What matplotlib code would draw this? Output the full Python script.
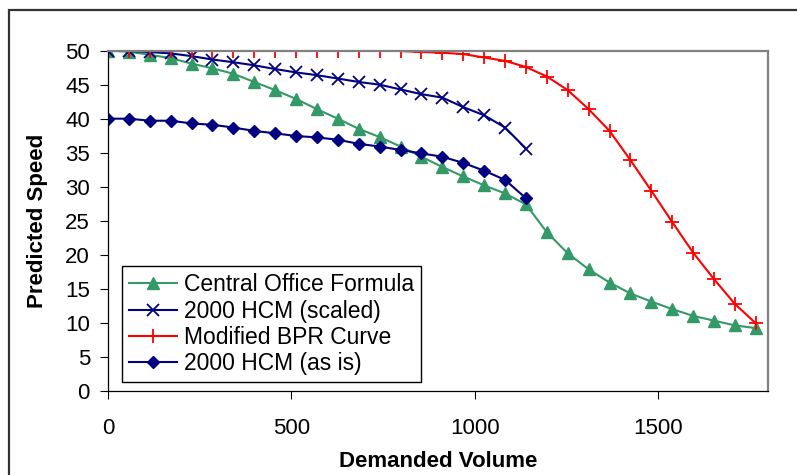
import matplotlib
matplotlib.use("Agg")
import matplotlib.pyplot as plt
from matplotlib.patches import Rectangle

plt.rcParams['font.family'] = ['Liberation Sans', 'DejaVu Sans']

# demanded volume steps (57 veh apart)
volume = [i * 57 for i in range(32)]

central_office = [50.0, 49.85, 49.4, 48.9, 48.1, 47.4, 46.6, 45.4, 44.2, 42.9,
                  41.4, 40.0, 38.5, 37.3, 35.9, 34.4, 32.9, 31.5, 30.2, 29.0,
                  27.4, 23.3, 20.2, 17.85, 15.9, 14.3, 13.1, 12.0, 11.0, 10.3,
                  9.6, 9.2]
hcm_scaled = [50.0, 49.95, 49.8, 49.6, 49.2, 48.7, 48.3, 47.85, 47.3, 46.8,
              46.4, 45.9, 45.4, 45.0, 44.3, 43.6, 43.1, 41.7, 40.5, 38.7, 35.6]
bpr = [50.0, 50.0, 50.0, 50.0, 50.0, 50.0, 50.0, 50.0, 50.0, 50.0,
       50.0, 50.0, 50.0, 50.0, 49.95, 49.8, 49.7, 49.5, 49.0, 48.5,
       47.6, 46.2, 44.2, 41.4, 38.2, 33.9, 29.4, 24.8, 20.3, 16.4,
       12.75, 9.9]
hcm_as_is = [40.0, 40.0, 39.7, 39.7, 39.3, 39.1, 38.7, 38.2, 37.85, 37.45,
             37.25, 36.9, 36.3, 35.9, 35.4, 34.9, 34.4, 33.5, 32.35, 31.0, 28.3]

x_ticks = [0, 500, 1000, 1500]
y_ticks = list(range(0, 51, 5))

fig = plt.figure(figsize=(7.97, 4.75), dpi=100)
ax = fig.add_axes([0.1355, 0.1775, 0.828, 0.7158])

ax.plot(volume, central_office, color='#339966', lw=1.5, marker='^', ms=8,
        label='Central Office Formula')
ax.plot(volume[:len(hcm_scaled)], hcm_scaled, color='#000080', lw=1.5,
        marker='x', ms=8, mew=1.3, label='2000 HCM (scaled)')
ax.plot(volume, bpr, color='#ff0000', lw=1.5, marker='+', ms=10, mew=1.3,
        label='Modified BPR Curve')
ax.plot(volume[:len(hcm_as_is)], hcm_as_is, color='#000080', lw=1.5,
        marker='D', ms=6, label='2000 HCM (as is)')

ax.set_xlim(0, 1800)
ax.set_ylim(0, 50)
ax.set_xticks(x_ticks)
ax.set_yticks(y_ticks)
ax.tick_params(axis='both', direction='out', length=6, width=0.8,
               labelsize=16, color='black')
ax.tick_params(axis='y', pad=7)
ax.tick_params(axis='x', pad=14)

for side in ['top', 'right']:
    ax.spines[side].set_color('#808080')
    ax.spines[side].set_linewidth(1.6)
for side in ['left', 'bottom']:
    ax.spines[side].set_color('black')
    ax.spines[side].set_linewidth(0.9)

ax.set_xlabel('Demanded Volume', fontsize=16, fontweight='bold', labelpad=8)
ax.set_ylabel('Predicted Speed', fontsize=16, fontweight='bold', labelpad=12)

leg = ax.legend(loc='lower left', bbox_to_anchor=(0.0217, 0.0247),
                borderaxespad=0, fontsize=16.5, frameon=True, fancybox=False,
                framealpha=1, edgecolor='black', handlelength=2.1,
                handletextpad=0.3, labelspacing=0.15, borderpad=0.3)
leg.get_frame().set_linewidth(1.0)

# outer chart border (only top and left edge visible)
fig.patches.append(Rectangle((9 / 797, -0.05), 1.2, 1 - 10 / 475 + 0.05,
                             transform=fig.transFigure, fill=False,
                             edgecolor='#333333', lw=1.6))

fig.savefig('out.png', dpi=100)
